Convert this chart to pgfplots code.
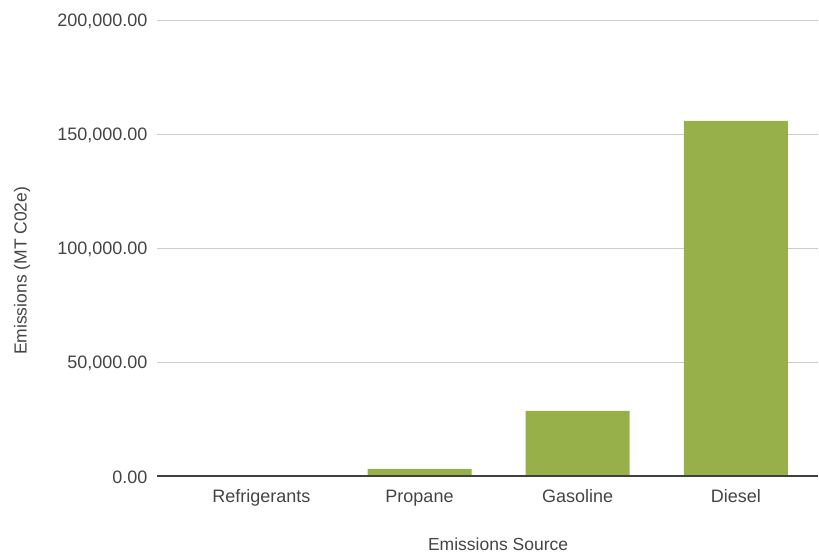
\documentclass[border=0pt]{standalone}
\usepackage{pgfplots}
\pgfplotsset{compat=1.18}
\usepackage{fontspec}
\setmainfont{Liberation Sans}
\definecolor{bargreen}{RGB}{151,176,74}
\definecolor{txt}{RGB}{68,68,68}
\definecolor{gridc}{RGB}{204,204,204}
\begin{document}
\begin{tikzpicture}
\path (-157pt,-76pt) rectangle (662pt,476pt);
\begin{axis}[
  at={(0,0)}, anchor=south west,
  scale only axis, width=661pt, height=456pt,
  xmin=-0.66, xmax=3.52, ymin=0, ymax=200000,
  ytick={0,50000,100000,150000,200000},
  xtick={0,1,2,3},
  xticklabels={Refrigerants,Propane,Gasoline,Diesel},
  scaled y ticks=false,
  yticklabel style={xshift=-6pt, yshift=-1pt},
  y tick label style={/pgf/number format/fixed,/pgf/number format/fixed zerofill,/pgf/number format/precision=2,/pgf/number format/1000 sep={,}},
  /pgf/number format/assume math mode=true,
  ticklabel style={font=\fontsize{18}{21}\selectfont, text=txt},
  major tick length=0pt,
  xmajorgrids=false, ymajorgrids=true, grid style={draw=gridc, line width=0.8pt},
  axis line style={draw=none},
  axis x line*=bottom, axis y line*=left,
  xticklabel style={yshift=-10pt, text height=13pt, text depth=4pt},
  xlabel={Emissions Source},
  ylabel={Emissions (MT C02e)},
  label style={font=\fontsize{17.5}{21}\selectfont, text=txt},
  xlabel style={at={(axis description cs:0.516,0)}, anchor=center, yshift=-68pt},
  ylabel style={at={(axis description cs:-0.204,0.45)}, anchor=center, rotate=0},
  clip=false,
]
\addplot[ybar, bar width=104pt, fill=bargreen, draw=none] coordinates {
  (0,0) (1,3100) (2,28600) (3,155700)
};
\draw[black!75, line width=1.2pt] (axis cs:-0.66,0) -- (axis cs:3.52,0);
\end{axis}
\end{tikzpicture}
\end{document}
